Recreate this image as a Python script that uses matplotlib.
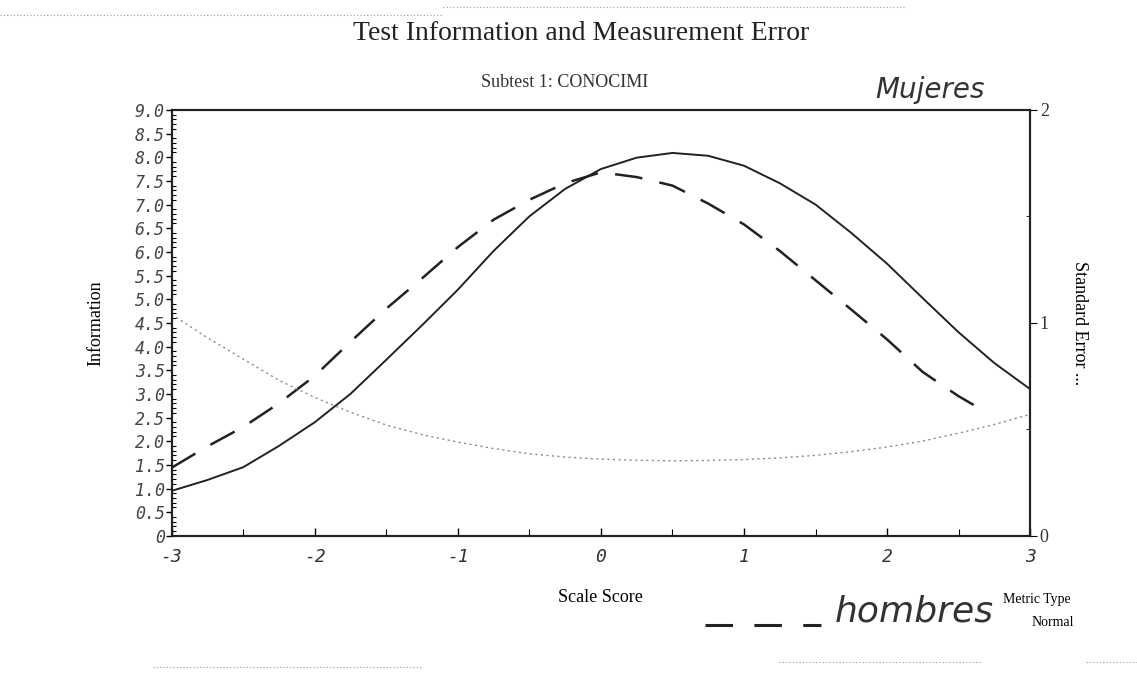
import matplotlib
matplotlib.use("Agg")
import matplotlib.pyplot as plt
import numpy as np
from matplotlib.lines import Line2D
from matplotlib.ticker import MultipleLocator, FixedLocator

# scale score grid
theta = [-3.0, -2.75, -2.5, -2.25, -2.0, -1.75, -1.5, -1.25, -1.0, -0.75, -0.5, -0.25,
         0.0, 0.25, 0.5, 0.75, 1.0, 1.25, 1.5, 1.75, 2.0, 2.25, 2.5, 2.75, 3.0]

# test information, mujeres (solid)
info_mujeres = [0.95, 1.18, 1.45, 1.90, 2.40, 3.00, 3.72, 4.45, 5.20, 6.02, 6.75, 7.33,
                7.75, 7.99, 8.09, 8.03, 7.82, 7.45, 7.00, 6.40, 5.75, 5.02, 4.30, 3.65, 3.10]

# test information, hombres (dashed) - stops a bit before 3
theta_hombres = [-3.0, -2.75, -2.5, -2.25, -2.0, -1.75, -1.5, -1.25, -1.0, -0.75, -0.5, -0.25,
                 0.0, 0.25, 0.5, 0.75, 1.0, 1.25, 1.5, 1.75, 2.0, 2.25, 2.5, 2.7]
info_hombres = [1.44, 1.89, 2.30, 2.80, 3.38, 4.10, 4.80, 5.44, 6.10, 6.68, 7.10, 7.45,
                7.68, 7.58, 7.40, 7.02, 6.58, 6.02, 5.40, 4.78, 4.15, 3.46, 2.95, 2.60]

# standard error (dotted, right axis)
std_err = [1.04, 0.93, 0.83, 0.73, 0.65, 0.58, 0.52, 0.475, 0.44, 0.41, 0.385, 0.37,
           0.36, 0.355, 0.352, 0.354, 0.358, 0.366, 0.378, 0.395, 0.417, 0.445, 0.482, 0.523, 0.57]

info_ticks = np.arange(0, 9.01, 0.5)
info_labels = ["0" if t == 0 else "%.1f" % t for t in info_ticks]

serif = "Liberation Serif"
mono = "DejaVu Sans Mono"

fig = plt.figure(figsize=(11.37, 6.74), dpi=100)
ax = fig.add_axes([0.151, 0.205, 0.755, 0.632])

ax.plot(theta, info_mujeres, color="#222222", lw=1.4, ls="-")
ax.plot(theta_hombres, info_hombres, color="#222222", lw=1.8, ls=(0, (11, 7)))

ax.set_xlim(-3, 3)
ax.set_ylim(0, 9)
ax.set_yticks(info_ticks)
ax.set_yticklabels(info_labels, family=mono, style="oblique", fontsize=12, color="#444444")
ax.yaxis.set_minor_locator(MultipleLocator(0.1))
ax.tick_params(axis="y", which="major", direction="out", length=4, pad=1, width=1)
ax.tick_params(axis="y", which="minor", direction="in", length=3, width=0.8)

ax.xaxis.set_major_locator(FixedLocator([-3, -2, -1, 0, 1, 2, 3]))
ax.xaxis.set_minor_locator(MultipleLocator(0.5))
ax.set_xticklabels(["-3", "-2", "-1", "0", "1", "2", "3"],
                   family=mono, style="oblique", fontsize=13, color="#333333")
ax.tick_params(axis="x", which="major", direction="in", length=6, pad=9, width=1)
ax.tick_params(axis="x", which="minor", direction="in", length=5, width=0.8)

for s in ax.spines.values():
    s.set_linewidth(1.5)
    s.set_color("#222222")

ax.set_xlabel("Scale Score", family=serif, fontsize=13, labelpad=16)
ax.set_ylabel("Information", family=serif, fontsize=13, labelpad=22)

ax2 = ax.twinx()
ax2.plot(theta, std_err, color="#888888", lw=1.0, ls=(0, (1.5, 2.5)))
ax2.set_ylim(0, 2)
ax2.set_yticks([0, 1, 2])
ax2.set_yticklabels(["0", "1", "2"], family=serif, fontsize=13, color="#333333")
ax2.yaxis.set_minor_locator(MultipleLocator(0.5))
ax2.tick_params(axis="y", which="major", direction="out", length=5, pad=2)
ax2.tick_params(axis="y", which="minor", direction="in", length=3)
ax2.set_ylabel("Standard Error ...", family=serif, fontsize=13, rotation=-90, labelpad=28)
for s in ax2.spines.values():
    s.set_linewidth(1.5)
    s.set_color("#222222")

fig.text(0.511, 0.951, "Test Information and Measurement Error", family=serif,
         fontsize=20, ha="center", va="center", color="#222222")
fig.text(0.497, 0.877, "Subtest 1: CONOCIMI", family=serif, fontsize=13,
         ha="center", va="center", color="#333333")
fig.text(0.818, 0.866, "Mujeres", family="DejaVu Sans", style="oblique", fontsize=20,
         ha="center", va="center", color="#333333")

# handwritten key for the dashed line
fig.add_artist(Line2D([0.62, 0.722], [0.072, 0.072], color="#222222", lw=2.2,
                      ls=(0, (9, 7)), transform=fig.transFigure))
fig.text(0.804, 0.093, "hombres", family="DejaVu Sans", style="oblique", fontsize=26,
         ha="center", va="center", color="#333333")
fig.text(0.912, 0.110, "Metric Type", family=serif, fontsize=10, ha="center", va="center")
fig.text(0.945, 0.077, "Normal", family=serif, fontsize=10, ha="right", va="center")

# scan border artifacts
for xs, y in [([0.0, 0.39], 0.978), ([0.39, 0.795], 0.99), ([0.135, 0.37], 0.01),
              ([0.685, 0.862], 0.018), ([0.955, 1.0], 0.018)]:
    fig.add_artist(Line2D(xs, [y, y], color="#999999", lw=0.8, ls=(0, (1, 2)),
                          transform=fig.transFigure))

fig.savefig("out.png", dpi=100)
